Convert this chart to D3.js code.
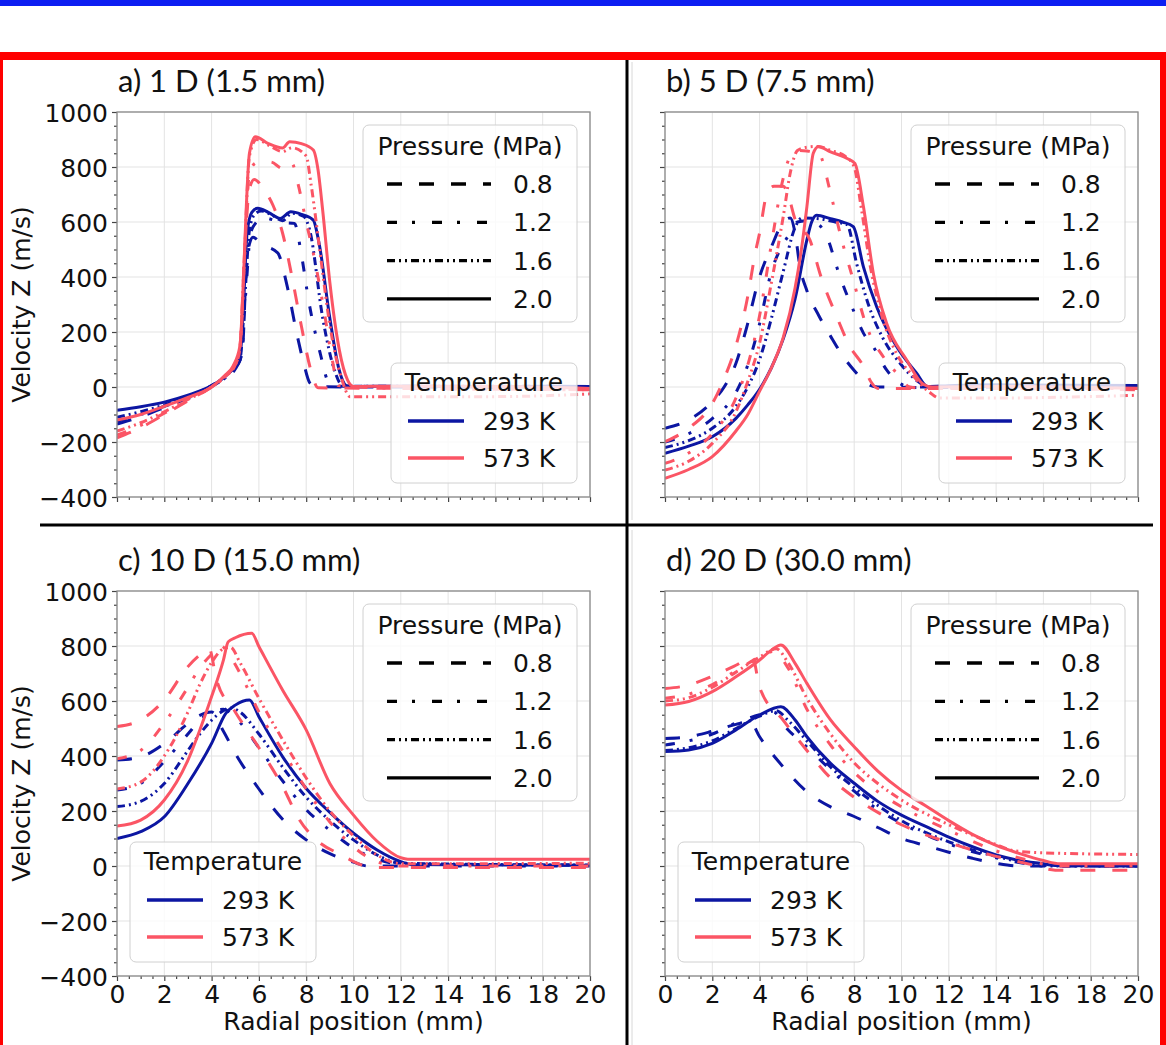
<!DOCTYPE html>
<html><head><meta charset="utf-8">
<script src="https://cdn.jsdelivr.net/npm/d3@7"></script>
<style>body{margin:0;background:#fff;} svg{display:block;}</style>
</head><body>
<svg id="chart" width="1166" height="1045"></svg>
<script>
const panelTitles = ["a) 1 D (1.5 mm)", "b) 5 D (7.5 mm)", "c) 10 D (15.0 mm)", "d) 20 D (30.0 mm)"];
const pressures = ["0.8", "1.2", "1.6", "2.0"];
const temperatures = ["293 K", "573 K"];
const xTicks = [0, 2, 4, 6, 8, 10, 12, 14, 16, 18, 20];
const yTicks = [-400, -200, 0, 200, 400, 600, 800, 1000];
const xLabel = "Radial position (mm)";
const yLabel = "Velocity Z (m/s)";
const pressureTitle = "Pressure (MPa)";
const temperatureTitle = "Temperature";

// ---- panel a) 1 D ----
const a293_08 = [[0,-135],[1,-108],[2,-75],[3,-40],[4,2],[4.6,35],[5.0,65],[5.3,130],[5.45,400],[5.6,520],[5.75,545],[6.0,530],[6.25,515],[6.8,487],[7.2,365],[7.6,195],[7.9,85],[8.15,15],[8.4,2],[10,0],[20,0]];
const a293_12 = [[0,-125],[1,-100],[2,-70],[3,-38],[4,3],[4.6,35],[5.0,70],[5.25,110],[5.45,350],[5.65,560],[5.9,600],[6.2,615],[6.6,608],[7.0,598],[7.5,595],[7.8,480],[8.1,316],[8.6,120],[8.9,25],[9.2,3],[12,2],[20,2]];
const a293_16 = [[0,-110],[1,-90],[2,-65],[3,-35],[4,5],[4.6,40],[5.0,75],[5.2,100],[5.4,320],[5.6,570],[5.8,625],[6.1,640],[6.5,628],[7.0,605],[7.4,632],[7.9,620],[8.15,570],[8.7,250],[9.2,60],[9.5,8],[10,3],[14,3],[20,2]];
const a293_20 = [[0,-85],[1,-72],[2,-55],[3,-30],[4,5],[4.6,40],[5.0,80],[5.2,110],[5.35,300],[5.5,560],[5.7,635],[5.95,650],[6.4,635],[6.9,613],[7.35,637],[7.8,628],[8.3,607],[8.55,520],[9.0,250],[9.4,60],[9.7,5],[10,2],[12,3],[14,2],[16,0],[18,3],[20,2]];
const a573_08 = [[0,-185],[1,-148],[2,-100],[3,-50],[4,0],[4.6,40],[5.0,85],[5.2,150],[5.4,500],[5.6,720],[5.8,755],[6.2,720],[6.6,660],[7.0,560],[7.4,400],[7.8,220],[8.2,60],[8.5,-3],[12,-5],[20,-10]];
const a573_12 = [[0,-175],[1,-140],[2,-95],[3,-48],[4,0],[4.6,40],[5.0,80],[5.2,140],[5.4,480],[5.6,780],[5.9,815],[6.5,818],[7.0,795],[7.4,812],[7.65,740],[8.0,600],[8.3,487],[8.7,305],[9.1,100],[9.35,5],[12,-5],[20,-10]];
const a573_16 = [[0,-160],[1,-130],[2,-90],[3,-45],[4,0],[4.6,40],[5.0,80],[5.2,140],[5.4,500],[5.6,840],[5.9,900],[6.5,875],[7.0,856],[7.4,870],[8.0,840],[8.2,740],[8.6,480],[9.0,225],[9.5,30],[9.85,-35],[12,-35],[16,-35],[20,-25]];
const a573_20 = [[0,-120],[1,-100],[2,-70],[3,-38],[4,0],[4.6,45],[4.9,75],[5.2,150],[5.35,400],[5.45,620],[5.6,850],[5.85,910],[6.4,885],[7.0,869],[7.3,892],[7.8,885],[8.3,862],[8.5,790],[8.7,640],[9.0,380],[9.4,135],[9.75,25],[10.0,2],[12,3],[16,2],[20,-5]];

// ---- panel b) 5 D ----
const b293_08 = [[0,-150],[1,-120],[2,-53],[2.5,0],[3,86],[3.4,200],[4,401],[4.5,510],[5.0,600],[5.3,615],[5.5,560],[5.7,440],[6.0,350],[6.5,260],[7.0,185],[7.5,115],[8.0,60],[8.5,15],[9,0],[12,-2],[20,0]];
const b293_12 = [[0,-200],[1,-170],[2,-115],[3,-20],[3.5,80],[4,230],[4.5,420],[5.0,520],[5.3,560],[5.6,600],[6.0,605],[6.5,590],[6.9,535],[7.26,437],[7.61,353],[7.96,280],[8.39,196],[8.81,146],[9.37,62],[10.07,7],[10.5,0],[20,5]];
const b293_16 = [[0,-220],[1,-195],[2,-150],[3,-70],[3.5,0],[4,100],[4.5,250],[5.0,420],[5.5,580],[5.8,615],[6.5,612],[7.2,600],[7.7,590],[8.1,450],[8.6,300],[9.2,180],[10,80],[10.7,20],[11.2,0],[20,3]];
const b293_20 = [[0,-241],[1,-215],[2,-181],[3,-114],[3.5,-65],[4,-8],[4.5,70],[5.0,175],[5.5,320],[6.0,535],[6.2,600],[6.41,625],[7.0,612],[7.5,600],[7.96,583],[8.39,437],[8.95,292],[9.8,146],[10.64,50],[11.1,2],[12,5],[14,8],[20,5]];
const b573_08 = [[0,-199],[1,-150],[2,-60],[2.5,30],[3,150],[3.5,330],[3.8,480],[4.0,560],[4.3,700],[4.6,730],[5.0,730],[5.2,700],[5.5,610],[6.13,534],[6.6,400],[7.26,256],[7.8,150],[8.4,74],[8.7,20],[9.0,-5],[12,-5],[20,-10]];
const b573_12 = [[0,-278],[1,-240],[2,-170],[3,-40],[3.5,80],[4,260],[4.5,520],[5.0,760],[5.3,840],[5.6,860],[6.0,858],[6.5,850],[6.97,716],[7.4,559],[7.96,389],[8.53,219],[9.23,110],[9.8,50],[10.35,0],[11,-5],[20,-5]];
const b573_16 = [[0,-302],[1,-270],[2,-205],[3,-90],[3.5,20],[4,160],[4.5,380],[5.0,620],[5.3,780],[5.6,860],[6.0,872],[6.5,875],[7.0,860],[7.6,840],[8.0,800],[8.3,650],[8.7,430],[9.2,250],[9.8,120],[10.5,40],[11.2,-20],[11.6,-40],[14,-40],[20,-30]];
const b573_20 = [[0,-332],[1,-300],[2,-253],[3,-160],[3.5,-100],[4,-15],[4.5,70],[5.0,180],[5.5,360],[5.8,520],[6.0,656],[6.27,850],[6.48,874],[7.0,855],[7.68,832],[8.03,813],[8.39,656],[8.81,413],[9.37,232],[10.22,98],[10.92,10],[11.3,0],[14,2],[20,-5]];

// ---- panel c) 10 D ----
const c293_08 = [[0,385],[1,397],[2,445],[3,518],[3.5,548],[4.0,560],[4.5,490],[5,410],[6,280],[7,170],[8,95],[9,45],[10,14],[10.6,0],[20,0]];
const c293_12 = [[0,276],[1,300],[2,380],[3,480],[3.5,530],[4,560],[4.5,570],[5,540],[6,430],[7,310],[8,205],[9,130],[10,65],[11,25],[12,8],[20,3]];
const c293_16 = [[0,216],[1,235],[2,300],[3,420],[3.5,480],[4,530],[4.5,565],[4.8,575],[5.2,560],[6,480],[7,360],[8,250],[9,165],[10,95],[11,40],[12,10],[20,3]];
const c293_20 = [[0,100],[1,125],[2,179],[3,300],[4,446],[4.6,555],[5.0,585],[5.6,604],[6,543],[7,398],[8,282],[9,195],[10,119],[11,58],[12,16],[12.5,5],[20,3]];
const c573_08 = [[0,507],[1,531],[2,604],[3,725],[3.5,767],[3.9,790],[4.2,680],[5,560],[6,430],[7,290],[7.7,170],[8.5,90],[9.5,40],[10.3,5],[10.8,-5],[20,-5]];
const c573_12 = [[0,390],[1,420],[2,520],[3,650],[3.5,720],[4,770],[4.4,800],[4.8,760],[5.5,650],[6,560],[7,420],[8,280],[9,160],[10,70],[11,15],[12,0],[20,0]];
const c573_16 = [[0,280],[1,305],[2,400],[3,560],[3.5,660],[4,740],[4.5,790],[4.8,795],[5.2,740],[6,610],[7,460],[8,320],[9,200],[10,110],[11,40],[12,8],[20,10]];
const c573_20 = [[0,145],[1,167],[2,240],[3,385],[3.5,494],[4,616],[4.5,749],[4.7,815],[5.0,830],[5.7,846],[6.0,798],[7,640],[8,495],[9,300],[10,185],[11,90],[12,30],[12.3,25],[16,25],[20,25]];

// ---- panel d) 20 D ----
const d293_08 = [[0,464],[1,470],[2,490],[3,515],[3.6,525],[4,470],[5,360],[6,270],[7,215],[8,180],[9,140],[10,100],[11,75],[12,50],[13,28],[14,10],[15,0],[20,0]];
const d293_12 = [[0,440],[1,455],[2,480],[3,520],[4,550],[4.6,560],[5,515],[6,432],[7,350],[8,272],[9,205],[10,155],[12,80],[14,30],[15.5,5],[16,0],[20,0]];
const d293_16 = [[0,420],[1,430],[2,455],[3,500],[4,545],[4.7,565],[5.2,530],[6,455],[7,360],[8,285],[9,220],[10,165],[12,88],[14,35],[15.5,8],[16.5,0],[20,0]];
const d293_20 = [[0,416],[1,422],[2,446],[3,495],[4,549],[4.9,579],[5.5,531],[6,470],[7,373],[8,301],[9,235],[10,185],[11,145],[12,105],[13,70],[14,40],[15,20],[16,8],[16.5,2],[20,0]];
const d573_08 = [[0,645],[1,658],[2,690],[3,730],[3.7,760],[4,650],[5,530],[6,420],[7,320],[8,250],[9,195],[10,150],[12,85],[14,35],[15.5,5],[16.5,-15],[20,-15]];
const d573_12 = [[0,610],[1,625],[2,660],[3,710],[4,760],[4.6,780],[5.2,720],[6,570],[7,440],[8,340],[9,270],[10,215],[12,130],[14,55],[15.5,18],[16.5,0],[20,0]];
const d573_16 = [[0,600],[1,612],[2,650],[3,705],[4,760],[4.7,790],[5.2,740],[6,610],[7,480],[8,375],[9,300],[10,240],[12,150],[13,112],[14,78],[14.8,55],[16,48],[20,42]];
const d573_20 = [[0,585],[1,598],[2,634],[3,688],[4,749],[4.5,785],[4.9,804],[5.5,737],[6,664],[7,531],[8,434],[9,345],[10,275],[11,220],[12,165],[13,115],[14,75],[15,45],[16,20],[16.7,8],[20,8]];

const panelSeries = [
  {t293: [a293_08, a293_12, a293_16, a293_20], t573: [a573_08, a573_12, a573_16, a573_20]},
  {t293: [b293_08, b293_12, b293_16, b293_20], t573: [b573_08, b573_12, b573_16, b573_20]},
  {t293: [c293_08, c293_12, c293_16, c293_20], t573: [c573_08, c573_12, c573_16, c573_20]},
  {t293: [d293_08, d293_12, d293_16, d293_20], t573: [d573_08, d573_12, d573_16, d573_20]}
];

// ---------- layout / style ----------
const W = 1166, H = 1045;
const PW = 473, PH = 385;
const layout = [
  {left: 117, top: 112, xLab: false, yLab: true, tempLegend: "right"},
  {left: 665, top: 112, xLab: false, yLab: false, tempLegend: "right"},
  {left: 117, top: 591, xLab: true, yLab: true, tempLegend: "left"},
  {left: 665, top: 591, xLab: true, yLab: false, tempLegend: "left"}
];
const BLUE = "#0c16a2", RED = "#fb5565";
const dashes = ["15,17", "10,15,3,17", "8,4,2,4,2,4", null];
const FONT = "'DejaVu Sans', sans-serif";
const FS = 25;

const svg = d3.select("#chart");
svg.append("rect").attr("width", W).attr("height", H).attr("fill", "#fff");

// decorations
svg.append("rect").attr("x", 0).attr("y", 0).attr("width", W).attr("height", 6).attr("fill", "#0d1ef2");
svg.append("rect").attr("x", 0).attr("y", 52).attr("width", W).attr("height", 8).attr("fill", "#ff0000");
svg.append("rect").attr("x", 0).attr("y", 52).attr("width", 3).attr("height", H - 52).attr("fill", "#ff0000");
svg.append("rect").attr("x", 1160).attr("y", 52).attr("width", 6).attr("height", H - 52).attr("fill", "#ff0000");
svg.append("line").attr("x1", 632).attr("x2", 632).attr("y1", 62).attr("y2", 520).attr("stroke", "#d8d8d8").attr("stroke-width", 1);
svg.append("line").attr("x1", 632).attr("x2", 632).attr("y1", 530).attr("y2", H).attr("stroke", "#d8d8d8").attr("stroke-width", 1);
svg.append("rect").attr("x", 40).attr("y", 523.5).attr("width", 1113).attr("height", 3).attr("fill", "#000");
svg.append("rect").attr("x", 625.5).attr("y", 60).attr("width", 3).attr("height", H - 60).attr("fill", "#000");

// title font size fit
const probe = svg.append("text").text(panelTitles[0]).style("font-family", "Lato, 'Open Sans', sans-serif").style("font-size", "30px");
const tw = probe.node().getComputedTextLength();
probe.remove();
const titleFS = 30 * 207 / tw;

const minorX = d3.range(0, 20.01, 0.5).filter(v => Math.abs(v % 2) > 1e-6);
const minorY = d3.range(-400, 1000.01, 50).filter(v => Math.abs(v % 200) > 1e-6);
const fmt = d3.format("");

layout.forEach((L, i) => {
  const g = svg.append("g").attr("transform", `translate(${L.left},${L.top})`);
  const x = d3.scaleLinear().domain([0, 20]).range([0, PW]);
  const y = d3.scaleLinear().domain([-400, 1000]).range([PH, 0]);

  // title
  svg.append("text").attr("x", L.left + 1).attr("y", L.top - 20)
    .style("font-family", "Lato, 'Open Sans', sans-serif").style("font-size", titleFS + "px")
    .attr("fill", "#111").text(panelTitles[i]);

  // grid
  g.append("g").selectAll("line").data(xTicks).join("line")
    .attr("x1", d => x(d)).attr("x2", d => x(d)).attr("y1", 0).attr("y2", PH)
    .attr("stroke", "#e3e3e3").attr("stroke-width", 1);
  g.append("g").selectAll("line").data(yTicks).join("line")
    .attr("y1", d => y(d)).attr("y2", d => y(d)).attr("x1", 0).attr("x2", PW)
    .attr("stroke", "#e3e3e3").attr("stroke-width", 1);

  // clip
  const cid = "clip" + i;
  g.append("clipPath").attr("id", cid).append("rect").attr("x", 0).attr("y", -2).attr("width", PW + 3).attr("height", PH + 4);

  const line = d3.line().x(d => x(d[0])).y(d => y(d[1])).curve(d3.curveMonotoneX);
  const lg = g.append("g").attr("clip-path", `url(#${cid})`);
  const S = panelSeries[i];
  [["t293", BLUE], ["t573", RED]].forEach(([k, col]) => {
    S[k].forEach((ser, j) => {
      lg.append("path").attr("d", line(ser)).attr("fill", "none")
        .attr("stroke", col).attr("stroke-width", 3)
        .attr("stroke-dasharray", dashes[j]).attr("stroke-linejoin", "round");
    });
  });

  // axes
  const xAx = d3.axisBottom(x).tickValues(xTicks).tickSize(5).tickPadding(4)
    .tickFormat(L.xLab ? fmt : () => "");
  const xg = g.append("g").attr("transform", `translate(0,${PH})`).call(xAx);
  const xm = g.append("g").attr("transform", `translate(0,${PH})`)
    .call(d3.axisBottom(x).tickValues(minorX).tickSize(3).tickFormat(() => ""));
  const yAx = d3.axisLeft(y).tickValues(yTicks).tickSize(5).tickPadding(4)
    .tickFormat(L.yLab ? d3.format("") : () => "");
  const yg = g.append("g").call(yAx);
  const ym = g.append("g").call(d3.axisLeft(y).tickValues(minorY).tickSize(3).tickFormat(() => ""));
  [xg, xm, yg, ym].forEach(a => {
    a.select(".domain").remove();
    a.selectAll(".tick line").attr("stroke", "#444").attr("stroke-width", 1.2);
    a.selectAll("text").style("font-family", FONT).style("font-size", FS + "px").attr("fill", "#111");
  });
  yg.selectAll("text").attr("dy", "0.38em");

  // spines
  g.append("rect").attr("x", 0).attr("y", 0).attr("width", PW).attr("height", PH)
    .attr("fill", "none").attr("stroke", "#8a8a8a").attr("stroke-width", 1.3);

  // axis labels
  if (L.xLab) {
    g.append("text").attr("x", PW / 2).attr("y", 1030 - L.top).attr("text-anchor", "middle")
      .style("font-family", FONT).style("font-size", FS + "px").attr("fill", "#111").text(xLabel);
  }
  if (L.yLab) {
    svg.append("text").attr("transform", `translate(30,${L.top + PH / 2}) rotate(-90)`)
      .attr("text-anchor", "middle").style("font-family", FONT).style("font-size", FS + "px")
      .attr("fill", "#111").text(yLabel);
  }

  // pressure legend
  const pl = g.append("g");
  pl.append("rect").attr("x", 246).attr("y", 13).attr("width", 214).attr("height", 197).attr("rx", 6)
    .attr("fill", "#fff").attr("fill-opacity", 0.8).attr("stroke", "#d0d0d0").attr("stroke-width", 1);
  pl.append("text").attr("x", 353).attr("y", 43).attr("text-anchor", "middle")
    .style("font-family", FONT).style("font-size", FS + "px").attr("fill", "#111").text(pressureTitle);
  pressures.forEach((p, j) => {
    const cy = 72 + j * 38.3;
    pl.append("line").attr("x1", 270).attr("x2", 374).attr("y1", cy).attr("y2", cy)
      .attr("stroke", "#000").attr("stroke-width", 3.3).attr("stroke-dasharray", dashes[j]);
    pl.append("text").attr("x", 396).attr("y", cy + 9)
      .style("font-family", FONT).style("font-size", FS + "px").attr("fill", "#111").text(p);
  });

  // temperature legend
  const off = L.tempLegend === "right" ? 274 : 13;
  const tl = g.append("g").attr("transform", `translate(${off},251)`);
  tl.append("rect").attr("x", 0).attr("y", 0).attr("width", 186).attr("height", 120).attr("rx", 6)
    .attr("fill", "#fff").attr("fill-opacity", 0.8).attr("stroke", "#d0d0d0").attr("stroke-width", 1);
  tl.append("text").attr("x", 93).attr("y", 28).attr("text-anchor", "middle")
    .style("font-family", FONT).style("font-size", FS + "px").attr("fill", "#111").text(temperatureTitle);
  temperatures.forEach((t, j) => {
    const cy = 58 + j * 37;
    tl.append("line").attr("x1", 17).attr("x2", 73).attr("y1", cy).attr("y2", cy)
      .attr("stroke", j === 0 ? BLUE : RED).attr("stroke-width", 3.3);
    tl.append("text").attr("x", 92).attr("y", cy + 9)
      .style("font-family", FONT).style("font-size", FS + "px").attr("fill", "#111").text(t);
  });
});
</script>
</body></html>
